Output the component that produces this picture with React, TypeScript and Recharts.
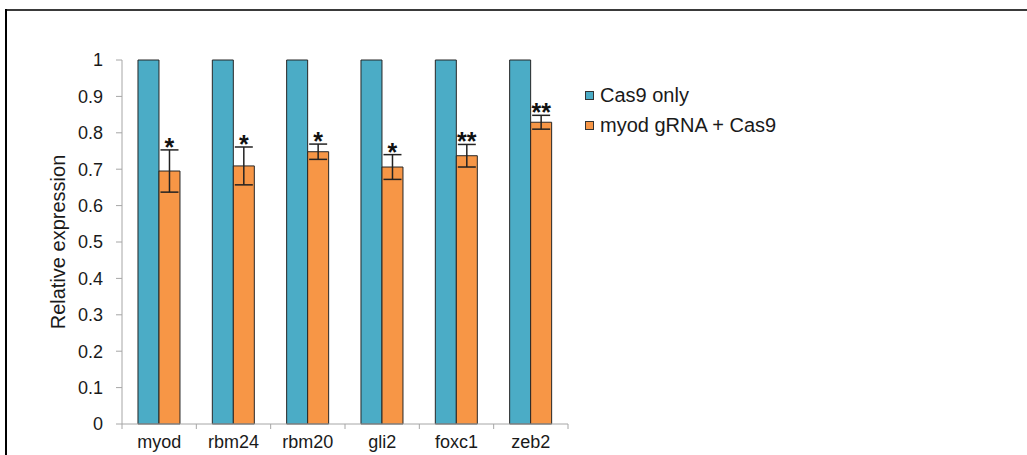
import React from 'react';
import { BarChart, Bar, XAxis, YAxis, ErrorBar, Legend, LabelList } from 'recharts';

const categories = ['myod', 'rbm24', 'rbm20', 'gli2', 'foxc1', 'zeb2'];
const cas9Only = [1, 1, 1, 1, 1, 1];
const gRnaCas9 = [0.695, 0.709, 0.748, 0.706, 0.737, 0.829];
const gRnaCas9Err = [0.058, 0.052, 0.021, 0.034, 0.031, 0.019];
const significance = ['*', '*', '*', '*', '**', '**'];
const yTicks = [0, 0.1, 0.2, 0.3, 0.4, 0.5, 0.6, 0.7, 0.8, 0.9, 1];
const seriesNames = ['Cas9 only', 'myod gRNA + Cas9'];
const seriesColors = ['#4BACC6', '#F79646'];

const data = categories.map((c, i) => ({
  name: c,
  cas9: cas9Only[i],
  grna: gRnaCas9[i],
  err: gRnaCas9Err[i],
  sig: significance[i],
}));

const FONT = '"Liberation Sans", Arial, sans-serif';

const CatTick = (props: any) => {
  const { x, y, payload, index, visibleTicksCount } = props;
  const off = payload?.offset ?? 0;
  const y0 = y;
  return (
    <g>
      <line x1={x - off} x2={x - off} y1={y0} y2={y0 + 5} stroke="#A6A6A6" strokeWidth={1} />
      {index === visibleTicksCount - 1 && (
        <line x1={x + off} x2={x + off} y1={y0} y2={y0 + 5} stroke="#A6A6A6" strokeWidth={1} />
      )}
      <text x={x} y={y0 + 24} textAnchor="middle" fontSize={18} fontFamily={FONT} fill="#1a1a1a">
        {payload.value}
      </text>
    </g>
  );
};

const SigLabel = (props: any) => {
  const { x, y, width, height, index } = props;
  const d = data[index];
  if (!d) return null;
  const perUnit = height / d.grna;
  const top = y - d.err * perUnit;
  return (
    <text x={x + width / 2} y={top + 6} textAnchor="middle" fontSize={25} fontWeight="bold" fontFamily={FONT} fill="#111">
      {d.sig}
    </text>
  );
};

const LegendContent = (props: any) => {
  const payload = props.payload || [];
  return (
    <div style={{ fontFamily: FONT, fontSize: 20, color: '#1a1a1a' }}>
      {payload.map((p: any, i: number) => (
        <div key={i} style={{ display: 'flex', alignItems: 'center', height: 30, whiteSpace: 'nowrap' }}>
          <span style={{ display: 'inline-block', width: 7, height: 7, background: p.color, border: '1px solid #333', marginRight: 6 }} />
          <span>{p.value}</span>
        </div>
      ))}
    </div>
  );
};

const YLabel = (props: any) => {
  const vb = props.viewBox || {};
  const cx = vb.x + 6;
  const cy = vb.y + vb.height / 2;
  return (
    <text x={cx} y={cy} transform={`rotate(-90 ${cx} ${cy})`} textAnchor="middle" dominantBaseline="central" fontSize={20} fontFamily={FONT} fill="#1a1a1a">
      Relative expression
    </text>
  );
};

export default function App() {
  return (
    <div style={{ position: 'absolute', left: 0, top: 0, width: 1027, height: 455, background: '#fff', overflow: 'hidden' }}>
      <div style={{ position: 'absolute', left: 5, top: 9, width: 1022, height: 2, background: '#3a3a3a' }} />
      <div style={{ position: 'absolute', left: 5, top: 9, width: 2, height: 446, background: '#000' }} />
      <div style={{ position: 'absolute', left: 0, top: 0 }}>
        <BarChart
          width={1027}
          height={455}
          data={data}
          margin={{ top: 60, right: 459, bottom: 1, left: 52 }}
          barCategoryGap="21.5%"
          barGap={0}
        >
          <XAxis
            dataKey="name"
            height={30}
            axisLine={{ stroke: '#A6A6A6' }}
            tickLine={false}
            tickSize={0}
            tickMargin={0}
            tick={<CatTick />}
            interval={0}
          />
          <YAxis
            width={70}
            domain={[0, 1]}
            ticks={yTicks}
            interval={0}
            tickFormatter={(v: number) => String(Math.round(v * 10) / 10)}
            axisLine={{ stroke: '#A6A6A6' }}
            tickLine={{ stroke: '#A6A6A6' }}
            tickSize={6}
            tickMargin={13}
            tick={{ fontSize: 18, fontFamily: FONT, fill: '#1a1a1a' }}
            label={<YLabel />}
          />
          <Legend
            layout="vertical"
            align="center"
            verticalAlign="middle"
            content={<LegendContent />}
            wrapperStyle={{ position: 'absolute', left: 585, top: 80, width: 300 }}
          />
          <Bar dataKey="cas9" name={seriesNames[0]} fill={seriesColors[0]} stroke="#262626" strokeWidth={1} isAnimationActive={false} />
          <Bar dataKey="grna" name={seriesNames[1]} fill={seriesColors[1]} stroke="#262626" strokeWidth={1} isAnimationActive={false}>
            <ErrorBar dataKey="err" width={9} stroke="#222" strokeWidth={1.5} />
            <LabelList dataKey="sig" content={<SigLabel />} />
          </Bar>
        </BarChart>
      </div>
    </div>
  );
}
